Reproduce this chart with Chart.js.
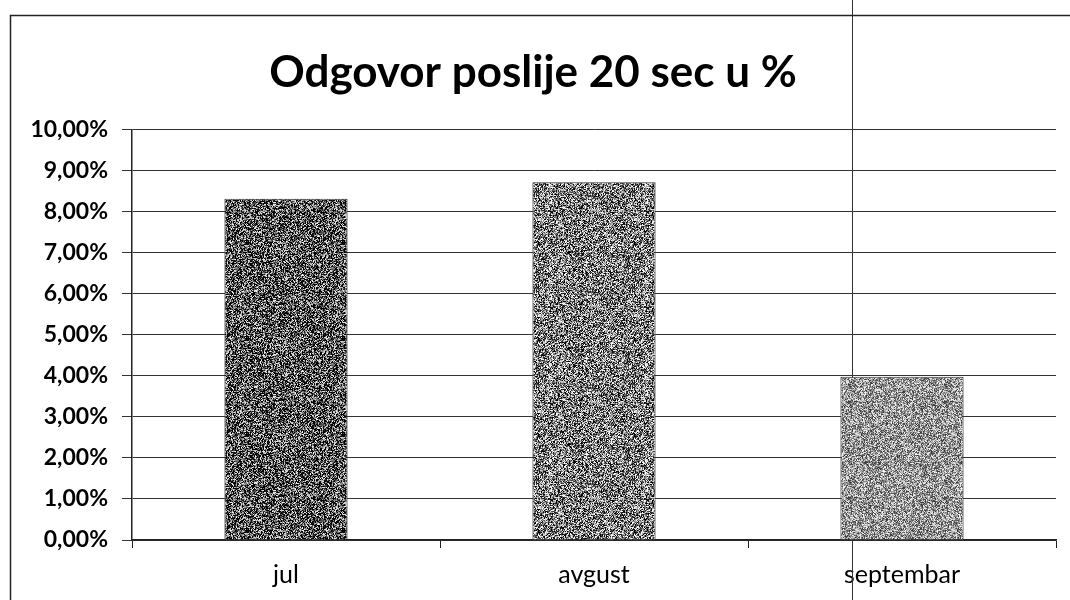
<!DOCTYPE html>
<html>
<head>
<meta charset="utf-8">
<script src="https://cdn.jsdelivr.net/npm/chart.js@4.4.1/dist/chart.umd.min.js"></script>
<style>
  html, body { margin: 0; padding: 0; background: #fff; }
  #wrap { position: relative; width: 1070px; height: 600px; }
</style>
</head>
<body>
<div id="wrap"><canvas id="chart" width="1070" height="600"></canvas></div>
<script>
// Chart data
const months = ['jul', 'avgust', 'septembar'];
const answerAfter20s = [8.32, 8.72, 3.98];
const yTicks = [0, 1, 2, 3, 4, 5, 6, 7, 8, 9, 10];
const chartTitle = 'Odgovor poslije 20 sec u %';

// speckled fill like the scanned original (deterministic noise)
function speckle(base, spread, seed) {
    const c = document.createElement('canvas');
    c.width = 96; c.height = 96;
    const g = c.getContext('2d');
    const img = g.createImageData(96, 96);
    let s = seed;
    for (let i = 0; i < 96 * 96; i++) {
        s = (s * 1103515245 + 12345) & 0x7fffffff;
        const r = (s >> 8) / 8388608;
        let v = base + (r - 0.5) * spread;
        v = Math.max(0, Math.min(255, v));
        img.data[i * 4] = img.data[i * 4 + 1] = img.data[i * 4 + 2] = v;
        img.data[i * 4 + 3] = 255;
    }
    g.putImageData(img, 0, 0);
    return g.createPattern(c, 'repeat');
}

const ctx = document.getElementById('chart').getContext('2d');
const barFills = [speckle(80, 340, 7), speckle(125, 300, 13), speckle(150, 200, 29)];

// chart border + scanner line
const frame = {
    id: 'frame',
    beforeDatasetsDraw(chart) {
        const c = chart.ctx;
        c.save();
        c.strokeStyle = '#333';
        c.lineWidth = 1;
        c.beginPath();
        c.moveTo(852.5, 0); c.lineTo(852.5, 600);
        c.stroke();
        c.restore();
    },
    afterDraw(chart) {
        const c = chart.ctx;
        c.save();
        c.strokeStyle = '#222';
        c.lineWidth = 1.5;
        c.beginPath();
        c.moveTo(10.5, 600); c.lineTo(10.5, 15.5); c.lineTo(1070, 15.5);
        c.stroke();
        c.restore();
    }
};

new Chart(ctx, {
    type: 'bar',
    data: {
        labels: months,
        datasets: [{
            label: chartTitle,
            data: answerAfter20s,
            backgroundColor: barFills,
            borderColor: '#333',
            borderWidth: 1,
            categoryPercentage: 1,
            barPercentage: 0.4,
        }]
    },
    options: {
        responsive: false,
        animation: false,
        layout: { padding: { left: 10, right: 14, top: 30, bottom: 0 } },
        plugins: {
            legend: { display: false },
            tooltip: { enabled: false },
            title: {
                display: true,
                text: chartTitle,
                color: '#000',
                font: { family: 'Lato', size: 44, weight: 'bold' },
                padding: { top: 16, bottom: 31 }
            }
        },
        scales: {
            x: {
                afterFit(scale) { scale.height = 60; },
                grid: { display: true, drawOnChartArea: false, color: '#222', tickLength: 8, offset: true },
                border: { color: '#222', width: 1.5 },
                ticks: { color: '#000', font: { family: 'Lato', size: 25 }, padding: 12 }
            },
            y: {
                min: 0,
                max: 10,
                afterBuildTicks(scale) { scale.ticks = yTicks.map(v => ({ value: v })); },
                afterFit(scale) { scale.width = 122; },
                grid: { color: '#333', lineWidth: 1, tickLength: 10 },
                border: { color: '#222', width: 1.5 },
                ticks: {
                    color: '#000',
                    font: { family: 'Lato', size: 23, weight: 'bold' },
                    padding: 14,
                    callback: v => v.toFixed(2).replace('.', ',') + '%'
                }
            }
        }
    },
    plugins: [frame]
});
</script>
</body>
</html>
